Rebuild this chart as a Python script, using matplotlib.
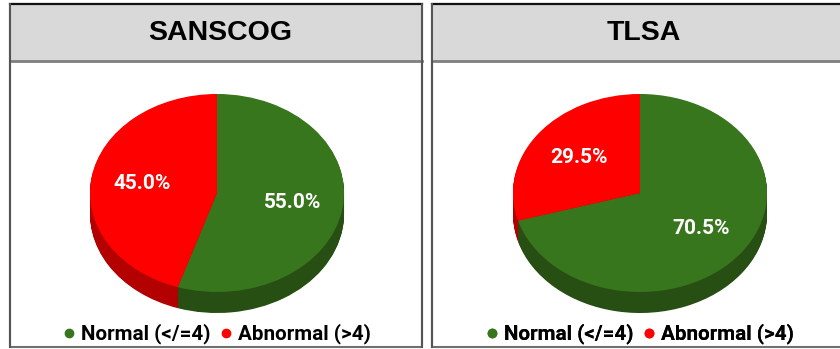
import numpy as np
import matplotlib
matplotlib.use("Agg")
import matplotlib.pyplot as plt
from matplotlib.patches import Rectangle
from matplotlib.lines import Line2D

plt.rcParams['font.family'] = ['Liberation Sans', 'DejaVu Sans']

# study names and share of participants per category (%)
studies = ['SANSCOG', 'TLSA']
categories = ['Normal (</=4)', 'Abnormal (>4)']
sanscog = [55.0, 45.0]
tlsa = [70.5, 29.5]
shares = [sanscog, tlsa]

top_colors = ['#38761d', '#ff0000']
side_colors = ['#274e13', '#b30000']

W, H = 840, 349
fig = plt.figure(figsize=(W / 100, H / 100), dpi=100)

# background axes in pixel coordinates for the panel boxes
bg = fig.add_axes([0, 0, 1, 1])
bg.set_xlim(0, W)
bg.set_ylim(H, 0)
bg.axis('off')

panels = [(10, 422), (432, 857)]
title_x = [220, 644]
pie_cx = [217, 640]
pie_cy = 193
rx, ry = 127, 99          # pixel radii of the tilted pie top
depth = 21                # pixel thickness of the pie wall
top, header_bot, bottom = 4, 61, 347

for (x0, x1), name, tx in zip(panels, studies, title_x):
    bg.add_patch(Rectangle((x0, top), x1 - x0, bottom - top, facecolor='white',
                           edgecolor='#707070', lw=1.5, zorder=1))
    bg.add_patch(Rectangle((x0, top), x1 - x0, header_bot - top, facecolor='#d9d9d9',
                           edgecolor='none', zorder=2))
    bg.plot([x0, x1], [header_bot, header_bot], color='#7f7f7f', lw=2, zorder=3)
    bg.plot([x0, x1], [top, top], color='#111111', lw=1.6, zorder=3)
    bg.plot([x0, x0], [top, bottom], color='#555555', lw=1.5, zorder=3)
    bg.plot([x1, x1], [top, bottom], color='#555555', lw=1.5, zorder=3)
    bg.text(tx, 33, name, ha='center', va='center', fontsize=20.5,
            fontweight='bold', color='black', zorder=4)

xl, xr = -1.3, 1.3
yb, yt = -1.5, 1.3
d = depth / ry

for vals, cx in zip(shares, pie_cx):
    left = (cx + xl * rx) / W
    width = (xr - xl) * rx / W
    top_px = pie_cy - yt * ry
    height_px = (yt - yb) * ry
    ax = fig.add_axes([left, (H - top_px - height_px) / H, width, height_px / H])
    # wall: stacked copies shifted downwards
    for off in np.linspace(d, 0, 30)[:-1]:
        ax.pie(vals, colors=side_colors, startangle=90, counterclock=False,
               center=(0, -off), wedgeprops={'linewidth': 0})
    ax.pie(vals, colors=top_colors, startangle=90, counterclock=False,
           autopct='%1.1f%%', pctdistance=0.6,
           wedgeprops={'linewidth': 0},
           textprops={'color': 'white', 'fontsize': 15, 'fontweight': 'bold',
                      'family': ['Roboto', 'DejaVu Sans']})
    ax.set_aspect('auto')
    ax.set_xlim(xl, xr)
    ax.set_ylim(yb, yt)
    ax.axis('off')

    handles = [Line2D([], [], marker='o', ls='none', color=c, markersize=6)
               for c in top_colors]
    bg.legend(handles, categories, loc='center', bbox_to_anchor=(cx, 334),
              bbox_transform=bg.transData, ncol=2, frameon=False,
              handlelength=0.55, handletextpad=0.3, columnspacing=0.45,
              borderpad=0, prop={'size': 14.9, 'weight': 'bold',
                                 'family': ['Roboto', 'DejaVu Sans']})
    bg.add_artist(bg.get_legend())

fig.savefig('out.png', dpi=100)
